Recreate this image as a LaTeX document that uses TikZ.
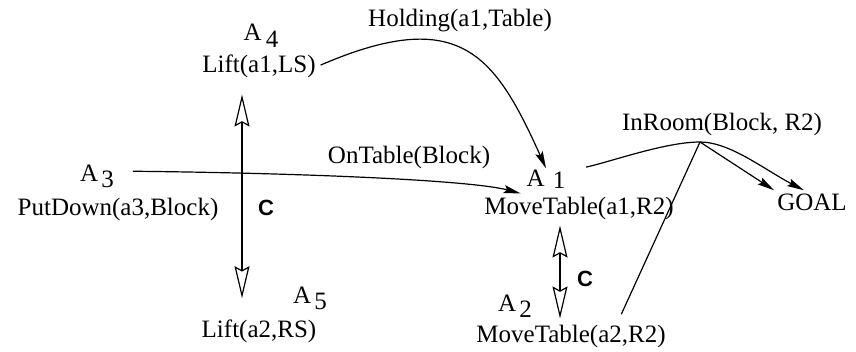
\documentclass[tikz,border=0pt]{standalone}
\usepackage{fontspec}
\setmainfont{Liberation Serif}
\setsansfont{Liberation Sans}
\usetikzlibrary{arrows.meta}
\tikzstyle{textbox}=[inner sep=3pt, anchor=base, font=\fontsize{25}{27}\selectfont]
\tikzstyle{actlabel}=[textbox, inner sep=1pt]
\tikzstyle{cbox}=[inner sep=0pt, font=\fontsize{22}{24}\selectfont\sffamily\bfseries]
\tikzstyle{edgepath}=[-{Stealth[length=17pt,width=8pt,inset=3pt]}, line width=1.2pt]
\tikzstyle{linkpath}=[line width=1.2pt]
\tikzstyle{conflictpath}=[{Stealth[open,length=32pt,width=15pt,inset=4pt]}-{Stealth[open,length=32pt,width=15pt,inset=4pt]}, line width=1.2pt]
% A, gap, lowered number
\newcommand{\actno}[3]{A\kern#2\raisebox{-#3}{#1}}

\begin{document}
\begin{tikzpicture}[x=1pt, y=-1pt]
    \useasboundingbox (0,0) rectangle (856,351);
    
    \node[actlabel] (a4) at (261,40) {\actno{4}{4pt}{7pt}};
    \node[textbox] (l4) at (259,72) {Lift(a1,LS)};
    
    \node[actlabel] (a3) at (97,181) {\actno{3}{3pt}{6pt}};
    \node[textbox] (p3) at (118,215) {PutDown(a3,Block)};
    
    \node[actlabel] (a5) at (310,303) {\actno{5}{3pt}{6pt}};
    \node[textbox] (l5) at (259,337) {Lift(a2,RS)};
    
    \node[actlabel] (a1) at (546,186) {\actno{1}{8pt}{2pt}};
    \node[textbox] (m1) at (579,214) {MoveTable(a1,R2)};
    
    \node[actlabel] (a2) at (515,311) {\actno{2}{3pt}{6pt}};
    \node[textbox] (m2) at (571,342) {MoveTable(a2,R2)};
    
    \node[textbox] (goal) at (812,210) {GOAL};
    
    \node[textbox] (hold) at (460,26) {Holding(a1,Table)};
    \node[textbox] (ontab) at (409,163) {OnTable(Block)};
    \node[textbox] (inroom) at (722,130) {InRoom(Block, R2)};
    
    \node[cbox] (c1) at (266,208) {C};
    \node[cbox] (c2) at (585,279) {C};
    
    \coordinate (j) at (700,142);
    
    \draw[edgepath, shorten <=2pt] (l4.east) .. controls (460,5) and (495,55) .. (a1.north);
    \draw[edgepath, shorten <=18pt] (a3.15) .. controls (300,173) and (470,180) .. (m1.166);
    \draw[edgepath, shorten <=20pt] (a1.20) .. controls (610,162) and (665,142) .. (j)
        .. controls (730,142) and (765,170) .. (goal.125);
    \draw[edgepath] (j) -- (goal.north west);
    \draw[linkpath, shorten <=8pt] ([xshift=47pt]m2.north) -- (j);
    
    \draw[conflictpath, shorten <=14pt, shorten >=18pt] ([xshift=-17pt]l4.south) -- ([xshift=-17pt]l5.north);
    \draw[conflictpath, shorten <=3pt, shorten >=3pt] ([xshift=-19pt]m1.south) -- ([xshift=-11pt]m2.north);
\end{tikzpicture}
\end{document}
